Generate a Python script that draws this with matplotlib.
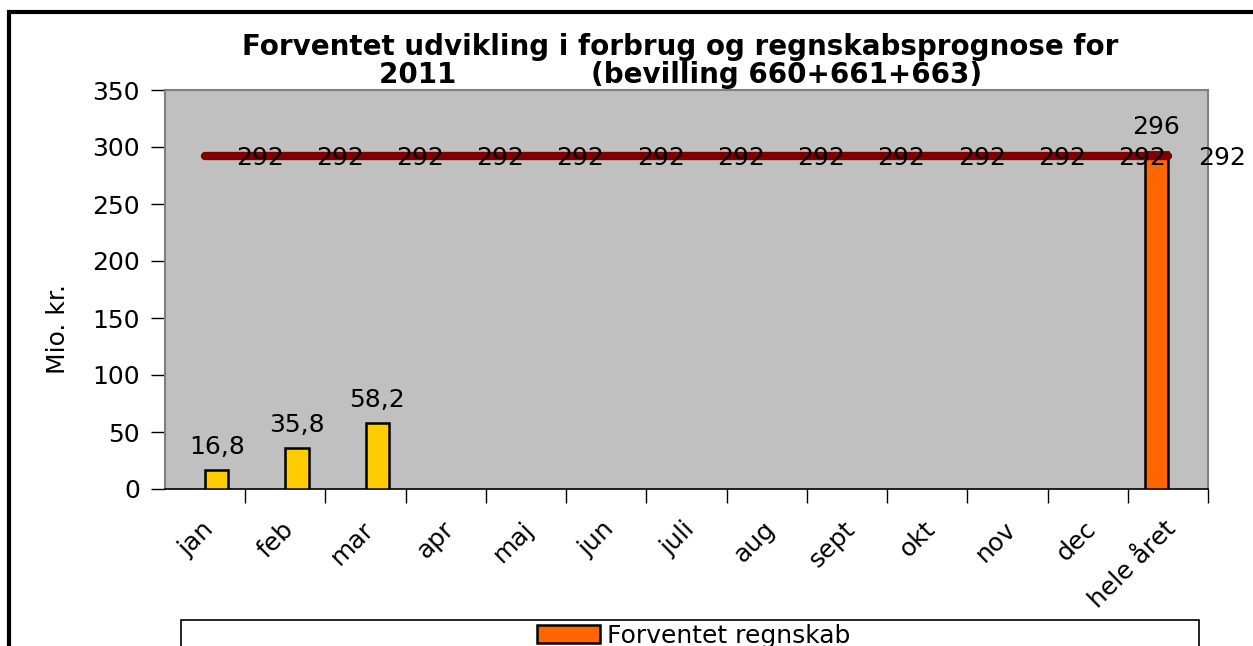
import matplotlib
matplotlib.use("Agg")
from matplotlib import pyplot as plt
from matplotlib.patches import Rectangle
import matplotlib.transforms as mtransforms
import numpy as np

# data
categories = ["jan", "feb", "mar", "apr", "maj", "jun", "juli", "aug",
              "sept", "okt", "nov", "dec", "hele året"]
forbrug = [16.8, 35.8, 58.2]          # yellow bars, months so far
regnskab = [296]                       # orange bar, whole year
bevilling = [292] * 13                 # line

fmt = lambda v: ("%g" % v).replace(".", ",")

plt.rcParams['font.family'] = ['DejaVu Sans']
fig = plt.figure(figsize=(12.53, 6.46), dpi=100)
ax = fig.add_axes([165 / 1253, 1 - 489 / 646, (1208 - 165) / 1253, (489 - 90) / 646])
ax.set_facecolor("#C0C0C0")

x = np.arange(len(categories))
w = 0.29
fs = 18

# yellow bars (second series in cluster)
xf = x[:len(forbrug)] + w / 2
ax.bar(xf, forbrug, width=w, color="#FFCC00", edgecolor="black", linewidth=1.8, zorder=3)
for xi, v in zip(xf, forbrug):
    ax.annotate(fmt(v), (xi, v), xytext=(0, 8), textcoords="offset points",
                ha="center", va="bottom", fontsize=fs, zorder=5)

# orange bar (first series in cluster)
xr = x[len(categories) - 1:] - w / 2
bars = ax.bar(xr, regnskab, width=w, color="#FF6600", edgecolor="black", linewidth=1.8,
              zorder=3, label="Forventet regnskab")
for xi, v in zip(xr, regnskab):
    ax.annotate(fmt(v), (xi, v), xytext=(0, 9), textcoords="offset points",
                ha="center", va="bottom", fontsize=fs, zorder=5)

# bevilling line
ax.plot(x, bevilling, color="#800000", linewidth=6, solid_capstyle="round", zorder=4)
for xi, v in zip(x, bevilling):
    ax.annotate(fmt(v), (xi, v), xytext=(22, -1), textcoords="offset points",
                ha="left", va="center", fontsize=fs, zorder=5, annotation_clip=False)

ax.set_xlim(-0.5, len(categories) - 0.5)
ax.set_ylim(0, 350)
ax.set_yticks(np.arange(0, 351, 50))
ax.tick_params(axis="y", length=10, width=1, labelsize=fs, pad=8)

ax.set_xticks(np.arange(0.5, len(categories), 1))
ax.set_xticklabels([])
ax.tick_params(axis="x", which="major", length=10, width=1, direction="out")
ax.set_xticks(x, minor=True)
ax.set_xticklabels(categories, minor=True, rotation=45, ha="right",
                   rotation_mode="anchor", fontsize=fs)
ax.tick_params(axis="x", which="minor", length=0, pad=20)
offset = mtransforms.ScaledTranslation(-4 / 100, 0, fig.dpi_scale_trans)
for lab in ax.get_xticklabels(minor=True):
    lab.set_transform(lab.get_transform() + offset)

for s in ["left", "top", "right"]:
    ax.spines[s].set_color("#808080")
    ax.spines[s].set_linewidth(1.5)
ax.spines["bottom"].set_color("black")
ax.spines["bottom"].set_linewidth(1.2)

ax.set_ylabel("Mio. kr.", fontsize=fs)
ax.yaxis.set_label_coords(-0.091, 0.4)

fig.text(0.543, 1 - 61 / 646,
         "Forventet udvikling i forbrug og regnskabsprognose for\n"
         "2011              (bevilling 660+661+663)",
         ha="center", va="center", fontsize=20, fontweight="bold",
         multialignment="center", linespacing=1.0)

# outer chart border
fig.patches.append(Rectangle((9 / 1253, -0.1), 1.2, (646 - 12) / 646 + 0.1,
                             transform=fig.transFigure, fill=False,
                             edgecolor="black", linewidth=3))

# legend box
fig.patches.append(Rectangle((181 / 1253, -0.05), (1199 - 181) / 1253, (646 - 620) / 646 + 0.05,
                             transform=fig.transFigure, facecolor="white",
                             edgecolor="black", linewidth=1.2))
fig.legend(handles=[bars], loc="upper center",
           bbox_to_anchor=(694 / 1253, 1 - 621 / 646),
           frameon=False, fontsize=fs, handlelength=2.5, handleheight=0.7,
           handletextpad=0.3, borderpad=0.1, borderaxespad=0)

fig.savefig("out.png", dpi=100)
